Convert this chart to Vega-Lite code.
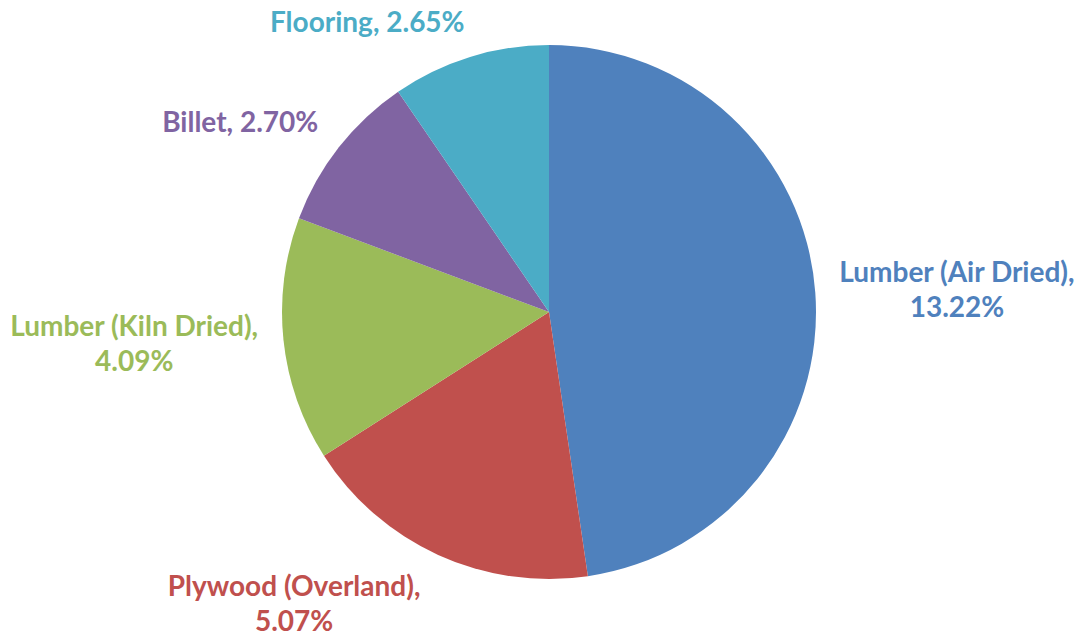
{
  "$schema": "https://vega.github.io/schema/vega-lite/v6.json",
  "width": 1062,
  "height": 624,
  "autosize": "none",
  "padding": {"left": 18, "top": 0, "right": 0, "bottom": 13},
  "background": "white",
  "view": {"stroke": null},
  "data": {
    "values": [
      {"cat": "Lumber (Air Dried)", "value": 13.22, "rank": 1, "label": "Lumber (Air Dried),\n13.22%"},
      {"cat": "Plywood (Overland)", "value": 5.07, "rank": 2, "label": "Plywood (Overland),\n5.07%"},
      {"cat": "Lumber (Kiln Dried)", "value": 4.09, "rank": 3, "label": "Lumber (Kiln Dried),\n4.09%"},
      {"cat": "Billet", "value": 2.70, "rank": 4, "label": "Billet, 2.70%"},
      {"cat": "Flooring", "value": 2.65, "rank": 5, "label": "Flooring, 2.65%"}
    ]
  },
  "encoding": {
    "theta": {"field": "value", "type": "quantitative", "stack": true},
    "order": {"field": "rank", "type": "quantitative"},
    "color": {
      "field": "cat",
      "type": "nominal",
      "legend": null,
      "scale": {
        "domain": ["Lumber (Air Dried)", "Plywood (Overland)", "Lumber (Kiln Dried)", "Billet", "Flooring"],
        "range": ["#4F81BD", "#C0504D", "#9BBB59", "#8064A2", "#4BACC6"]
      }
    }
  },
  "layer": [
    {"mark": {"type": "arc", "radius": 267}},
    {
      "mark": {"type": "text", "radius": 400, "dx": 9, "dy": -9, "font": "Lato", "fontWeight": "bold", "fontSize": 28, "lineBreak": "\n", "lineHeight": 35, "align": "center", "baseline": "middle"},
      "encoding": {"text": {"condition": {"test": "datum.cat === 'Lumber (Air Dried)'", "field": "label"}, "value": ""}}
    },
    {
      "mark": {"type": "text", "radius": 320, "dx": -122, "dy": -15, "font": "Lato", "fontWeight": "bold", "fontSize": 28, "lineBreak": "\n", "lineHeight": 35, "align": "center", "baseline": "middle"},
      "encoding": {"text": {"condition": {"test": "datum.cat === 'Plywood (Overland)'", "field": "label"}, "value": ""}}
    },
    {
      "mark": {"type": "text", "radius": 400, "dx": -17, "dy": -26, "font": "Lato", "fontWeight": "bold", "fontSize": 28, "lineBreak": "\n", "lineHeight": 35, "align": "center", "baseline": "middle"},
      "encoding": {"text": {"condition": {"test": "datum.cat === 'Lumber (Kiln Dried)'", "field": "label"}, "value": ""}}
    },
    {
      "mark": {"type": "text", "radius": 330, "dx": -49, "dy": 15, "font": "Lato", "fontWeight": "bold", "fontSize": 28, "lineBreak": "\n", "lineHeight": 35, "align": "center", "baseline": "middle"},
      "encoding": {"text": {"condition": {"test": "datum.cat === 'Billet'", "field": "label"}, "value": ""}}
    },
    {
      "mark": {"type": "text", "radius": 300, "dx": -93, "dy": -1, "font": "Lato", "fontWeight": "bold", "fontSize": 28, "lineBreak": "\n", "lineHeight": 35, "align": "center", "baseline": "middle"},
      "encoding": {"text": {"condition": {"test": "datum.cat === 'Flooring'", "field": "label"}, "value": ""}}
    }
  ]
}
